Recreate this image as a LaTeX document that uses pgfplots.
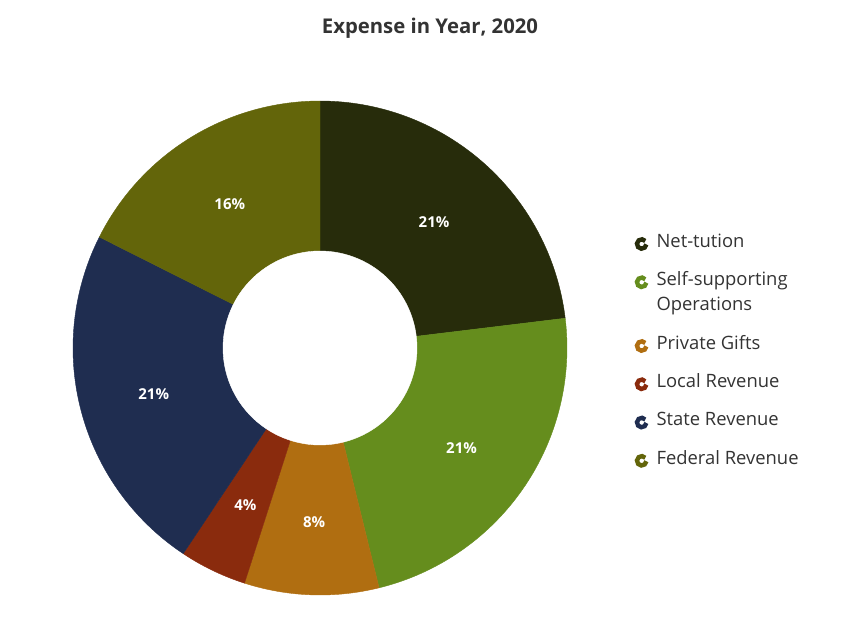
\documentclass[border=0pt]{standalone}
\usepackage{pgfplots}
\pgfplotsset{compat=1.18}
\usepackage{fontspec}
\setmainfont{Open Sans}
\definecolor{cA}{HTML}{272C0B}
\definecolor{cB}{HTML}{658D1D}
\definecolor{cC}{HTML}{B06E11}
\definecolor{cD}{HTML}{8A2B0D}
\definecolor{cE}{HTML}{1F2D50}
\definecolor{cF}{HTML}{63650A}
\definecolor{txt}{HTML}{333333}
% data values
\def\vA{21}\def\vB{21}\def\vC{8}\def\vD{4}\def\vE{21}\def\vF{16}
\pgfmathsetmacro\tot{\vA+\vB+\vC+\vD+\vE+\vF}
\pgfmathsetmacro\aA{90}
\pgfmathsetmacro\aB{\aA-360*\vA/\tot}
\pgfmathsetmacro\aC{\aB-360*\vB/\tot}
\pgfmathsetmacro\aD{\aC-360*\vC/\tot}
\pgfmathsetmacro\aE{\aD-360*\vD/\tot}
\pgfmathsetmacro\aF{\aE-360*\vE/\tot}
\pgfmathsetmacro\aG{\aF-360*\vF/\tot}
\pgfmathsetmacro\mA{(\aA+\aB)/2}
\pgfmathsetmacro\mB{(\aB+\aC)/2}
\pgfmathsetmacro\mC{(\aC+\aD)/2}
\pgfmathsetmacro\mD{(\aD+\aE)/2}
\pgfmathsetmacro\mE{(\aE+\aF)/2}
\pgfmathsetmacro\mF{(\aF+\aG)/2}
\newcommand\slice[3]{\addplot[fill=#1, draw=#1, line width=0.4pt, domain=#3:#2, samples=90, variable=\t, forget plot] ({320+247*cos(\t)},{277+247*sin(\t)}) -- (axis cs:320,277) -- cycle;}
\newcommand\plabel[2]{\node[font=\fontsize{15}{17}\selectfont\bfseries, text=white, yshift=-2.5pt] at (axis cs:{320+172*cos(#1)},{277+172*sin(#1)}) {#2\%};}
\newcommand\legtxt[1]{\rule[-22pt]{0pt}{46pt}#1}
\newcommand\licon[1]{\addlegendimage{legend image code/.code={\draw[#1, line width=4.4pt] (6.5pt,0.32em) ++(40:4.7pt) arc[start angle=40, end angle=355, radius=4.7pt];}}}
\pgfplotsset{
  mylegend/.style={legend style={at={(axis cs:634,#1)}, anchor=north west, draw=none, fill=none,
    inner sep=0pt, row sep=8pt, column sep=6pt,
    font=\fontsize{18.4}{25}\selectfont, text=txt,
    cells={anchor=base west, inner sep=0pt}}},
  base/.style={width=854pt, height=625pt, scale only axis,
    xmin=0, xmax=854, ymin=0, ymax=625, hide axis, clip=false},
}
\begin{document}
\begin{tikzpicture}
\begin{axis}[base, mylegend=404]
\path (axis cs:0,0) rectangle (axis cs:854,625);
\slice{cA}{\aA}{\aB}
\slice{cB}{\aB}{\aC}
\slice{cC}{\aC}{\aD}
\slice{cD}{\aD}{\aE}
\slice{cE}{\aE}{\aF}
\slice{cF}{\aF}{\aG}
\addplot[fill=white, draw=white, domain=0:360, samples=120, forget plot] ({320+97*cos(x)},{277+97*sin(x)}) -- cycle;
\plabel{\mA}{\vA}
\plabel{\mB}{\vB}
\plabel{\mC}{\vC}
\plabel{\mD}{\vD}
\plabel{\mE}{\vE}
\plabel{\mF}{\vF}
\node[font=\fontsize{20.3}{24}\selectfont\bfseries, text=txt] at (axis cs:430,597) {Expense in Year, 2020};
\licon{cA}\addlegendentry{\legtxt{Net-tution}}
\licon{cB}\addlegendentry{\legtxt{\makebox[0pt][l]{\raisebox{-25pt}[0pt][0pt]{Operations}}Self-supporting}}
\end{axis}
\begin{axis}[base, mylegend=302]
\licon{cC}\addlegendentry{\legtxt{Private Gifts}}
\licon{cD}\addlegendentry{\legtxt{Local Revenue}}
\licon{cE}\addlegendentry{\legtxt{State Revenue}}
\licon{cF}\addlegendentry{\legtxt{Federal Revenue}}
\end{axis}
\end{tikzpicture}
\end{document}
